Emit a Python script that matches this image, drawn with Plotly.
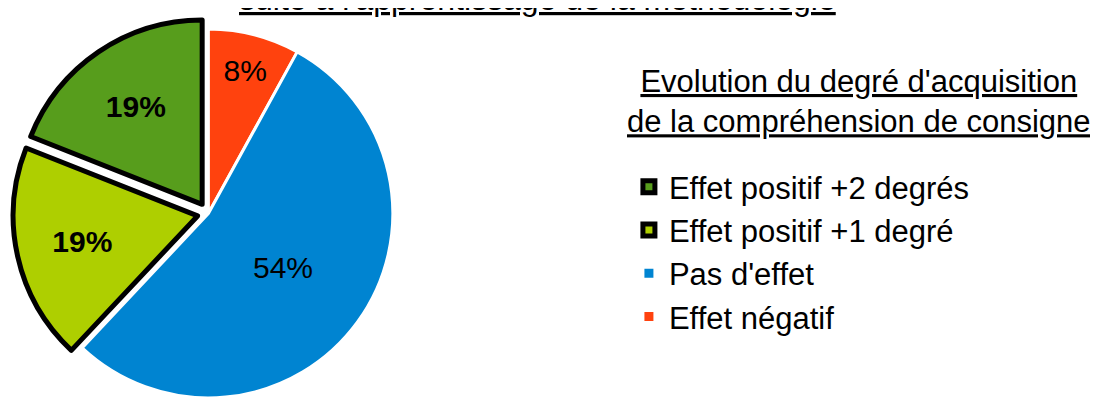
import plotly.graph_objects as go

labels = ["Effet négatif", "Pas d'effet", "Effet positif +1 degré", "Effet positif +2 degrés"]
values = [8, 54, 19, 19]
colors = ["#ff420e", "#0084d1", "#aecf00", "#579d1c"]
legend_title = "Evolution du degré d'acquisition<br>de la compréhension de consigne"
chart_title = "suite à l'apprentissage de la méthodologie"

FONT = "Liberation Sans, Arial, sans-serif"

fig = go.Figure(
    go.Pie(
        labels=labels,
        values=values,
        sort=False,
        direction="clockwise",
        rotation=0,
        pull=[0, 0, 0.06, 0.06],
        marker=dict(colors=colors, line=dict(color=["white", "white", "black", "black"], width=[3, 3, 5, 5])),
        texttemplate=["%{percent:.0%}", "%{percent:.0%}", "<b>%{percent:.0%}</b>", "<b>%{percent:.0%}</b>"],
        textposition="inside",
        insidetextorientation="horizontal",
        textfont=dict(family=FONT, size=30, color="black"),
        hoverinfo="label+percent",
        domain=dict(x=[0, 0.365], y=[0, 0.975]),
    )
)

# legend heading, centred over the legend like the original
fig.add_annotation(
    text=f"<u>{legend_title}</u>",
    xref="paper", yref="paper", x=0.775, y=0.745, yshift=9,
    xanchor="center", yanchor="middle", showarrow=False,
    font=dict(family=FONT, size=31, color="black"),
)
# second line of the chart title, its first line is off the top of the image
fig.add_annotation(
    text=f"<u>{chart_title}</u>",
    xref="paper", yref="paper", x=0.482, y=1,
    xanchor="center", yanchor="bottom", yshift=-11, showarrow=False,
    font=dict(family=FONT, size=32, color="black"),
)

fig.update_layout(
    width=1098,
    height=401,
    margin=dict(l=0, r=0, t=0, b=0),
    paper_bgcolor="white",
    plot_bgcolor="white",
    legend=dict(
        x=0.5655, y=0.621, xanchor="left", yanchor="top",
        traceorder="reversed",
        font=dict(family=FONT, size=31, color="black"),
        bgcolor="rgba(0,0,0,0)",
    ),
)

fig.write_html("out.html")
